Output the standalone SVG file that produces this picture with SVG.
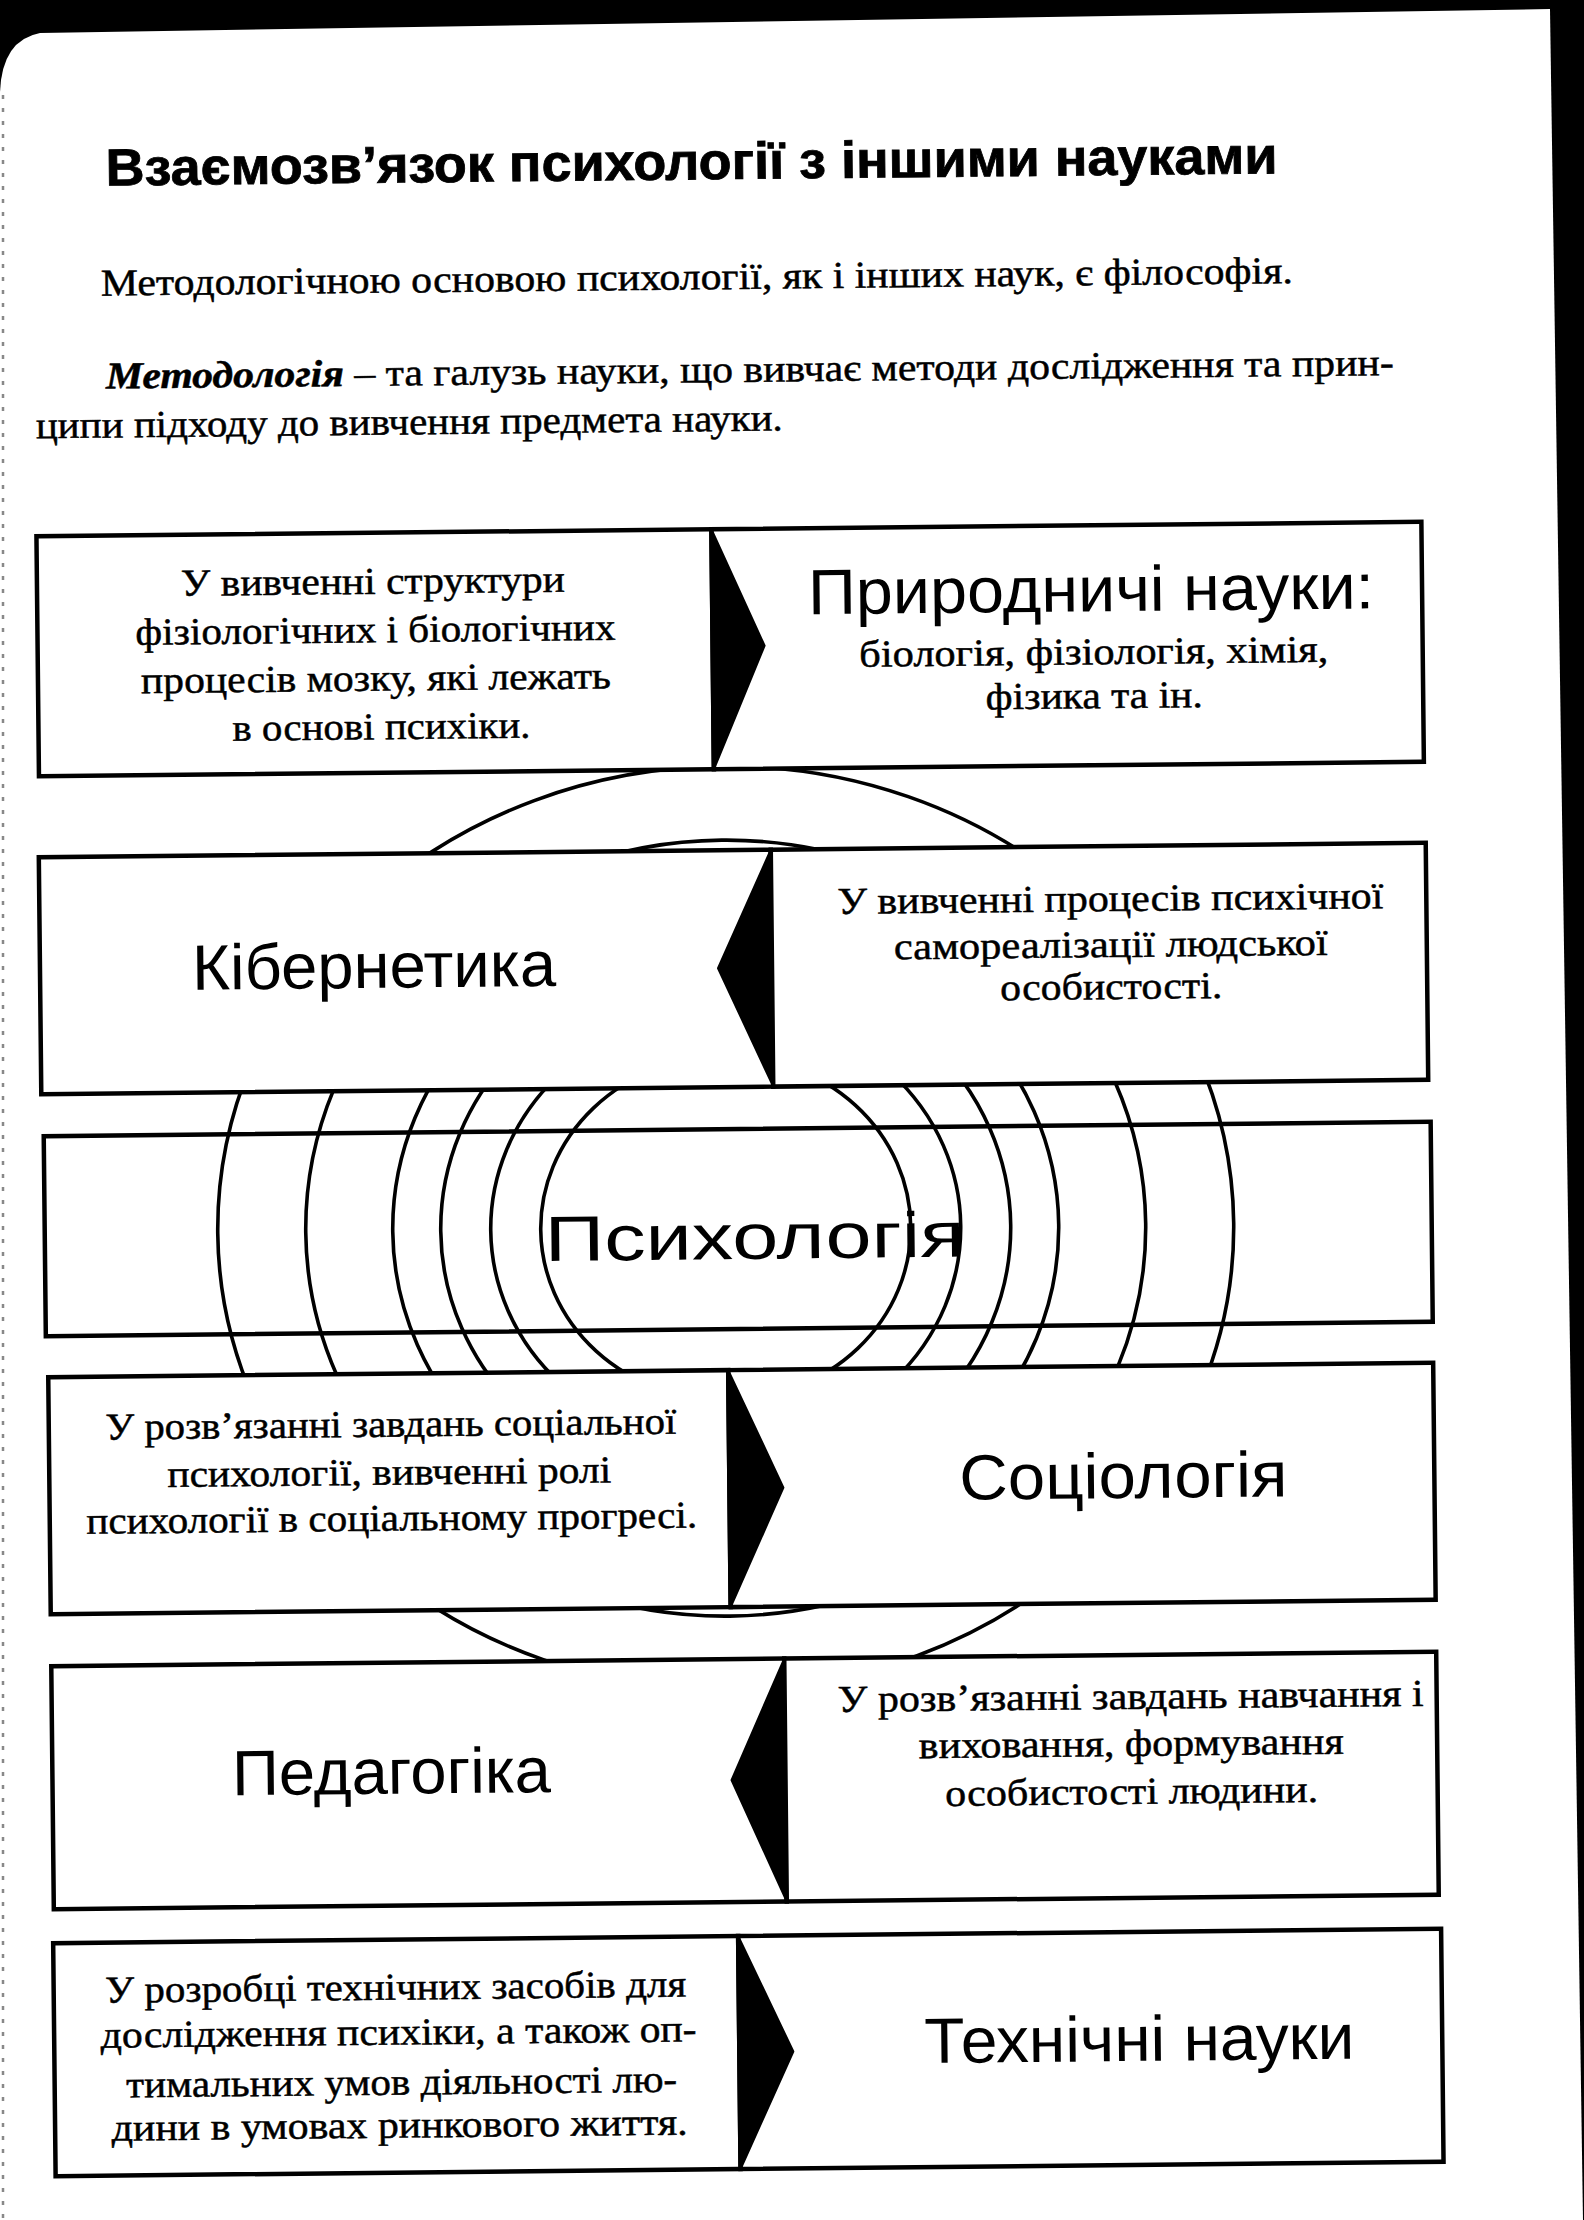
<svg xmlns="http://www.w3.org/2000/svg" width="1584" height="2220" viewBox="0 0 1584 2220">
<style>
.box{fill:#fff;stroke:#000;stroke-width:4.5}
.open{fill:none;stroke:#000;stroke-width:4.5}
.ring{fill:none;stroke:#000;stroke-width:3.6}
.wedge{fill:#000;stroke:#000;stroke-width:2;stroke-linejoin:round}
.serif{font-family:"Liberation Serif","Times New Roman",serif;font-size:38px;fill:#000;stroke:#000;stroke-width:0.5;text-anchor:middle}
.sans{font-family:"Liberation Sans",Arial,sans-serif;font-size:64px;fill:#000;text-anchor:middle}
.title{font-family:"Liberation Sans",Arial,sans-serif;font-size:52px;font-weight:bold;fill:#000;stroke:#000;stroke-width:0.8;text-anchor:middle}
</style>
<rect x="0" y="0" width="1584" height="2220" fill="#000"/>
<path d="M0,2220 L0,92 Q2,40 40,33 L1550,9 L1583,2220 Z" fill="#fff"/>
<line x1="3" y1="95" x2="3" y2="2220" stroke="#888" stroke-width="2.5" stroke-dasharray="4 9"/>
<g transform="rotate(-0.6 740 1350)">
  <g id="header">
    <text class="title" x="704" y="179" textLength="1172" lengthAdjust="spacingAndGlyphs">Взаємозв’язок психології з іншими науками</text>
    <text class="serif" x="708" y="289" textLength="1192" lengthAdjust="spacingAndGlyphs">Методологічною основою психології, як і інших наук, є філософія.</text>
    <text class="serif" x="760" y="382" textLength="1288" lengthAdjust="spacingAndGlyphs"><tspan font-weight="bold" font-style="italic">Методологія</tspan> – та галузь науки, що вивчає методи дослідження та прин-</text>
    <text class="serif" x="419" y="431" textLength="747" lengthAdjust="spacingAndGlyphs">ципи підходу до вивчення предмета науки.</text>
  </g>
  <g id="rings">
    <ellipse class="ring" cx="727" cy="1228" rx="508" ry="462"/>
    <ellipse class="ring" cx="727" cy="1228" rx="420" ry="388"/>
    <ellipse class="ring" cx="727" cy="1228" rx="333" ry="308"/>
    <ellipse class="ring" cx="727" cy="1228" rx="285" ry="264"/>
    <ellipse class="ring" cx="727" cy="1228" rx="235" ry="218"/>
    <ellipse class="ring" cx="727" cy="1228" rx="185" ry="172"/>
  </g>
  <g id="psychology">
    <rect class="open" x="46" y="1129" width="1387" height="200"/>
    <text class="sans" x="756" y="1259" font-size="82" textLength="420" lengthAdjust="spacingAndGlyphs">Психологія</text>
  </g>
  <g id="row1-left">
    <rect class="box" x="45" y="529" width="675" height="240"/>
    <text class="serif" x="381" y="590" textLength="384" lengthAdjust="spacingAndGlyphs">У вивченні структури</text>
    <text class="serif" x="383" y="638.5" textLength="480" lengthAdjust="spacingAndGlyphs">фізіологічних і біологічних</text>
    <text class="serif" x="383" y="687" textLength="470" lengthAdjust="spacingAndGlyphs">процесів мозку, які лежать</text>
    <text class="serif" x="388" y="735.5" textLength="298" lengthAdjust="spacingAndGlyphs">в основі психіки.</text>
  </g>
  <g id="natural-sciences">
    <rect class="box" x="720" y="529" width="710" height="240"/>
    <text class="sans" x="1099" y="615" textLength="566" lengthAdjust="spacingAndGlyphs">Природничі науки:</text>
    <text class="serif" x="1101" y="668" textLength="469" lengthAdjust="spacingAndGlyphs">біологія, фізіологія, хімія,</text>
    <text class="serif" x="1101" y="712" textLength="217" lengthAdjust="spacingAndGlyphs">фізика та ін.</text>
  </g>
  <g id="cybernetics">
    <rect class="box" x="44" y="850" width="732" height="237"/>
    <text class="sans" x="378" y="984" textLength="364" lengthAdjust="spacingAndGlyphs">Кібернетика</text>
  </g>
  <g id="row2-right">
    <rect class="box" x="776" y="850" width="655" height="237"/>
    <text class="serif" x="1115" y="915" textLength="546" lengthAdjust="spacingAndGlyphs">У вивченні процесів психічної</text>
    <text class="serif" x="1115" y="961" textLength="434" lengthAdjust="spacingAndGlyphs">самореалізації людської</text>
    <text class="serif" x="1115" y="1003" textLength="222" lengthAdjust="spacingAndGlyphs">особистості.</text>
  </g>
  <g id="row4-left">
    <rect class="box" x="48" y="1370" width="680" height="237"/>
    <text class="serif" x="390" y="1433" textLength="571" lengthAdjust="spacingAndGlyphs">У розв’язанні завдань соціальної</text>
    <text class="serif" x="388" y="1481" textLength="444" lengthAdjust="spacingAndGlyphs">психології, вивченні ролі</text>
    <text class="serif" x="390" y="1527" textLength="611" lengthAdjust="spacingAndGlyphs">психології в соціальному прогресі.</text>
  </g>
  <g id="sociology">
    <rect class="box" x="728" y="1370" width="705" height="237"/>
    <text class="sans" x="1122" y="1502" textLength="328" lengthAdjust="spacingAndGlyphs">Соціологія</text>
  </g>
  <g id="pedagogy">
    <rect class="box" x="48" y="1659" width="733" height="243"/>
    <text class="sans" x="387" y="1790" textLength="319" lengthAdjust="spacingAndGlyphs">Педагогіка</text>
  </g>
  <g id="row5-right">
    <rect class="box" x="781" y="1659" width="652" height="243"/>
    <text class="serif" x="1127" y="1713" textLength="586" lengthAdjust="spacingAndGlyphs">У розв’язанні завдань навчання і</text>
    <text class="serif" x="1127" y="1760" textLength="425" lengthAdjust="spacingAndGlyphs">виховання, формування</text>
    <text class="serif" x="1127" y="1808" textLength="373" lengthAdjust="spacingAndGlyphs">особистості людини.</text>
  </g>
  <g id="row6-left">
    <rect class="box" x="47" y="1936" width="685" height="233"/>
    <text class="serif" x="389" y="1996" textLength="581" lengthAdjust="spacingAndGlyphs">У розробці технічних засобів для</text>
    <text class="serif" x="391.5" y="2041" textLength="596" lengthAdjust="spacingAndGlyphs">дослідження психіки, а також оп-</text>
    <text class="serif" x="394" y="2091" textLength="551" lengthAdjust="spacingAndGlyphs">тимальних умов діяльності лю-</text>
    <text class="serif" x="391.5" y="2134" textLength="576" lengthAdjust="spacingAndGlyphs">дини в умовах ринкового життя.</text>
  </g>
  <g id="technical-sciences">
    <rect class="box" x="732" y="1936" width="703" height="233"/>
    <text class="sans" x="1132" y="2065" textLength="430" lengthAdjust="spacingAndGlyphs">Технічні науки</text>
  </g>
  <g id="connectors">
    <polygon class="wedge" points="720,529 772,646 720,769"/>
    <polygon class="wedge" points="776,850 722,968 776,1087"/>
    <polygon class="wedge" points="728,1370 782,1488 728,1607"/>
    <polygon class="wedge" points="781,1659 727,1780 781,1902"/>
    <polygon class="wedge" points="732,1936 786,2052 732,2169"/>
  </g>
</g>
</svg>
